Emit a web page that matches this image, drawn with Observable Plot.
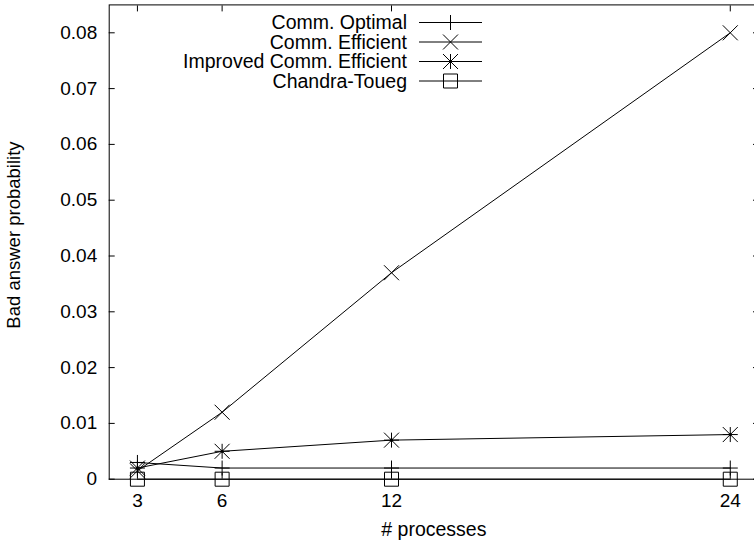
<!DOCTYPE html>
<html><head><meta charset="utf-8">
<script src="https://cdn.jsdelivr.net/npm/d3@7"></script>
<script src="https://cdn.jsdelivr.net/npm/@observablehq/plot@0.6"></script>
<style>
body{margin:0;background:#fff;overflow:hidden;}
#chart svg{display:block;}
</style>
</head><body><div id="chart"></div>
<script>
// ---- data ----
const processes = [3, 6, 12, 24];
const seriesNames = ["Comm. Optimal", "Comm. Efficient", "Improved Comm. Efficient", "Chandra-Toueg"];
const commOptimal = [0.003, 0.002, 0.002, 0.002];
const commEfficient = [0.0015, 0.012, 0.037, 0.080];
const improvedCommEfficient = [0.002, 0.005, 0.007, 0.008];
const chandraToueg = [0, 0, 0, 0];
const xTicks = [3, 6, 12, 24];
const xTickLabels = ["3", "6", "12", "24"];
const yTicks = [0, 0.01, 0.02, 0.03, 0.04, 0.05, 0.06, 0.07, 0.08];
const yTickLabels = ["0", "0.01", "0.02", "0.03", "0.04", "0.05", "0.06", "0.07", "0.08"];
const xLabel = "# processes";
const yLabel = "Bad answer probability";

const seriesValues = [commOptimal, commEfficient, improvedCommEfficient, chandraToueg];
const data = seriesNames.flatMap((name, s) =>
  processes.map((x, i) => ({series: name, s, x, y: seriesValues[s][i]})));

// ---- gnuplot-like point symbols ----
const H = 7.5;
const plusSym = {draw(c){c.moveTo(-H,0);c.lineTo(H,0);c.moveTo(0,-H);c.lineTo(0,H);}};
const timesSym = {draw(c){c.moveTo(-H,-H);c.lineTo(H,H);c.moveTo(-H,H);c.lineTo(H,-H);}};
const starSym = {draw(c){plusSym.draw(c);timesSym.draw(c);}};
const squareSym = {draw(c){c.rect(-7,-7,14,14);}};
const symbols = [plusSym, timesSym, starSym, squareSym];

const font = "'Liberation Sans', Arial, Helvetica, sans-serif";
const W = 754, HT = 541;

const plot = Plot.plot({
  width: W, height: HT,
  marginLeft: 108.7, marginRight: -4, marginTop: 4.4, marginBottom: 62.3,
  style: {fontFamily: font, fontSize: "19px", color: "black", background: "white"},
  x: {domain: [2, 25]},
  y: {domain: [0, 0.085]},
  marks: [
    Plot.axisX({ticks: xTicks, tickSize: -6, tickPadding: 20, fontSize: 19,
      tickFormat: d => xTickLabels[xTicks.indexOf(d)], label: null}),
    Plot.axisX({anchor: "top", ticks: xTicks, tickSize: -6, tickFormat: () => "", label: null}),
    Plot.axisY({ticks: yTicks, tickSize: -6, tickPadding: 18, fontSize: 19,
      tickFormat: d => yTickLabels[yTicks.indexOf(d)], label: null}),
    Plot.axisY({anchor: "right", ticks: yTicks, tickSize: -6, tickFormat: () => "", label: null}),
    Plot.text([xLabel], {text: d => d, frameAnchor: "bottom", dy: 43, lineAnchor: "top", fontSize: 19.5}),
    Plot.text([yLabel], {text: d => d, frameAnchor: "left", rotate: -90, dx: -95, dy: -7, lineAnchor: "middle", textAnchor: "middle", fontSize: 18.5}),
    Plot.line(data, {x: "x", y: "y", z: "series", stroke: "black", strokeWidth: 1}),
    ...symbols.map((sym, s) => Plot.dot(data.filter(d => d.s === s), {x: "x", y: "y", symbol: sym, fill: "none", stroke: "black", strokeWidth: 1})),
    Plot.dot(data.filter(d => d.s === 2), {x: "x", y: "y", r: 1.6, fill: "black", stroke: "none"}),
    Plot.frame({stroke: "black", strokeWidth: 1})
  ]
});
document.getElementById("chart").appendChild(plot);

// ---- legend (inside the frame, top) ----
const svg = d3.select(plot);
const lg = svg.append("g").attr("font-family", font).attr("font-size", 19.5);
const rowY = [22.5, 42, 61.5, 81];
seriesNames.forEach((name, s) => {
  const y = rowY[s];
  lg.append("text").attr("x", 407).attr("y", y).attr("dy", "0.35em")
    .attr("text-anchor", "end").attr("fill", "black").text(name);
  lg.append("line").attr("x1", 419).attr("x2", 482).attr("y1", y).attr("y2", y)
    .attr("stroke", "black").attr("stroke-width", 1);
  const p = d3.path();
  symbols[s].draw(p);
  lg.append("path").attr("transform", `translate(450.5,${y})`).attr("d", p.toString())
    .attr("fill", "none").attr("stroke", "black").attr("stroke-width", 1);
  if (s === 2) lg.append("circle").attr("cx", 450.5).attr("cy", y).attr("r", 1.6).attr("fill", "black");
});
</script>
</body></html>
